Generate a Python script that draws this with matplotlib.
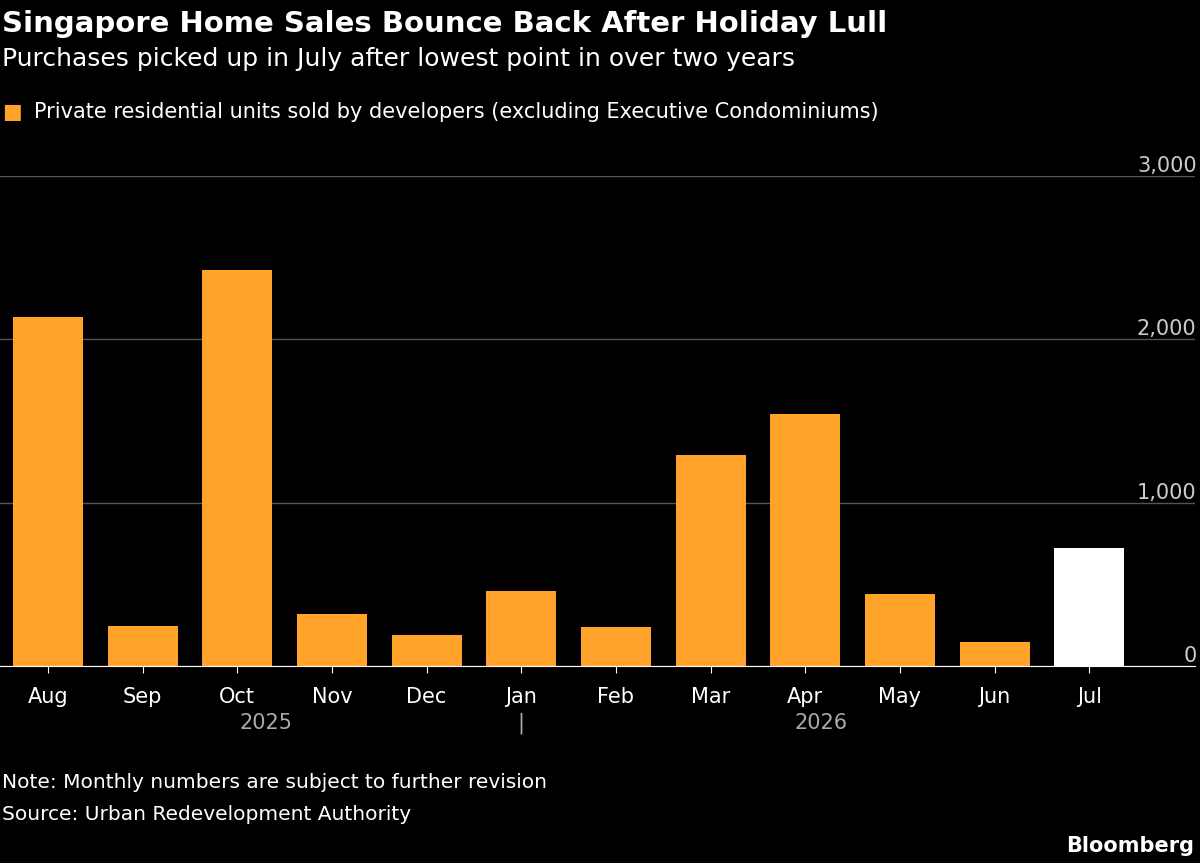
#!/usr/bin/env python3
"""
Plot Singapore monthly private home sales
"""

import matplotlib.pyplot as plt


def get_sales():
    """Return monthly units sold by developers"""
    months = ['Aug', 'Sep', 'Oct', 'Nov', 'Dec', 'Jan', 'Feb', 'Mar', 'Apr', 'May', 'Jun', 'Jul']
    units = [2135, 245, 2423, 319, 190, 460, 239, 1294, 1546, 442, 147, 724]
    return months, units


def plot_sales(months, units):
    """Draw the bar chart in the dark style"""
    fig = plt.figure(figsize=(12, 8.63), dpi=100, facecolor='black')
    ax = fig.add_axes([0.0, 0.228, 0.996, 0.568], facecolor='black')

    colors = ['#ffa32b'] * (len(units) - 1) + ['white']
    x = list(range(len(units)))
    ax.bar(x, units, width=0.74, color=colors, zorder=2)

    # Axis setup
    ax.set_xlim(-0.507, 12.12)
    ax.set_ylim(0, 3000)
    ax.yaxis.tick_right()
    ax.set_yticks([0, 1000, 2000, 3000])
    ax.set_yticklabels(['0', '1,000', '2,000', '3,000'], color='#cccccc', fontsize=15,
                       va='bottom', ha='right')
    ax.tick_params(axis='y', length=0, pad=1)
    ax.grid(axis='y', color='#555555', linewidth=1, zorder=0)
    ax.set_xticks(x)
    ax.set_xticklabels(months, color='white', fontsize=15)
    ax.tick_params(axis='x', length=5, color='white', pad=10)
    for side in ['top', 'right', 'left']:
        ax.spines[side].set_visible(False)
    ax.spines['bottom'].set_color('white')

    # Year labels
    ax.text(2.3, -0.095, '2025', transform=ax.get_xaxis_transform(), ha='center',
            va='top', color='#aaaaaa', fontsize=15)
    ax.text(5, -0.095, '|', transform=ax.get_xaxis_transform(), ha='center',
            va='top', color='#aaaaaa', fontsize=15)
    ax.text(8.17, -0.095, '2026', transform=ax.get_xaxis_transform(), ha='center',
            va='top', color='#aaaaaa', fontsize=15)

    # Titles and notes
    fig.text(0.002, 0.972, 'Singapore Home Sales Bounce Back After Holiday Lull',
             color='white', fontsize=21, fontweight='bold', va='center')
    fig.text(0.002, 0.932, 'Purchases picked up in July after lowest point in over two years',
             color='white', fontsize=18, va='center')
    fig.text(0.002, 0.870, '\u25a0', color='#ffa32b', fontsize=15, va='center')
    fig.text(0.028, 0.870, 'Private residential units sold by developers (excluding Executive Condominiums)',
             color='white', fontsize=15, va='center')
    fig.text(0.002, 0.093, 'Note: Monthly numbers are subject to further revision',
             color='white', fontsize=14.5, va='center')
    fig.text(0.002, 0.056, 'Source: Urban Redevelopment Authority',
             color='white', fontsize=14.5, va='center')
    fig.text(0.995, 0.020, 'Bloomberg', color='white', fontsize=15,
             fontweight='bold', ha='right', va='center')

    fig.savefig('out.png', facecolor='black')


def main():
    months, units = get_sales()
    plot_sales(months, units)


if __name__ == '__main__':
    main()
